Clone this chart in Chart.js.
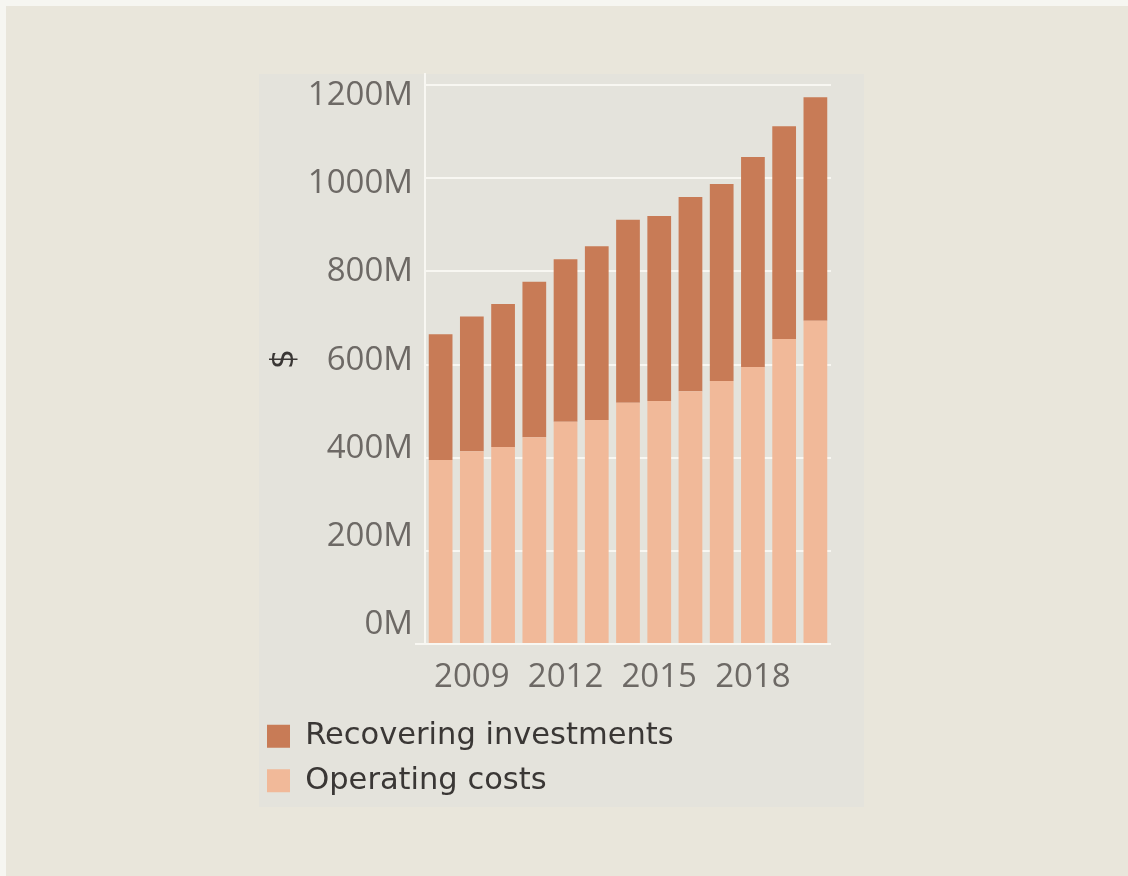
<!DOCTYPE html>
<html>
<head>
<meta charset="utf-8">
<title>Operating costs and recovering investments</title>
<script src="https://cdn.jsdelivr.net/npm/chart.js@4"></script>
<style>
  html, body { margin: 0; padding: 0; }
  body { width: 1128px; height: 876px; background: #f6f6f1; position: relative; overflow: hidden; }
  .page { position: absolute; left: 6px; top: 6px; right: 0; bottom: 0; background: #e9e6db; }
  .panel { position: absolute; left: 259px; top: 74px; width: 605px; height: 733px; background: #e4e3dc; }
  .wrap { position: absolute; left: 253px; top: 60px; width: 609px; height: 746px; }
</style>
</head>
<body>
<div class="page"></div>
<div class="panel"></div>
<div class="wrap"><canvas id="costChart"></canvas></div>
<script>
  'use strict'

  const years = [2008, 2009, 2010, 2011, 2012, 2013, 2014, 2015, 2016, 2017, 2018, 2019, 2020]
  // millions of dollars
  const operatingCosts = [395, 414, 423, 444, 477, 481, 518, 522, 543, 565, 595, 655, 694]
  const recoveringInvestments = [270, 289, 307, 334, 349, 373, 393, 397, 417, 423, 451, 457, 480]
  const yearLabels = [2009, 2012, 2015, 2018]
  const valueTicks = [0, 200, 400, 600, 800, 1000, 1200]

  const darkColor = '#c87b56'
  const lightColor = '#f1b999'
  const gridColor = '#f8f7f2'
  const tickFont = 'Open Sans'
  const legendFont = 'DejaVu Sans'

  // fixed tick set instead of the generated one
  const useValueTicks = scale => {
    scale.ticks = valueTicks.map(v => ({ value: v }))
  }

  const ctx = document.getElementById('costChart')
  new Chart(ctx, {
    type: 'bar',
    data: {
      labels: years,
      datasets: [{
        label: 'Operating costs',
        data: operatingCosts,
        backgroundColor: lightColor,
        borderWidth: 0,
        categoryPercentage: 0.76,
        barPercentage: 1
      }, {
        label: 'Recovering investments',
        data: recoveringInvestments,
        backgroundColor: darkColor,
        borderWidth: 0,
        categoryPercentage: 0.76,
        barPercentage: 1
      }]
    },
    options: {
      responsive: true,
      maintainAspectRatio: false,
      animation: false,
      layout: { padding: { left: 0, top: 14, right: 31, bottom: 0 } },
      scales: {
        x: {
          stacked: true,
          grid: { display: false },
          border: { display: false },
          ticks: {
            autoSkip: false,
            maxRotation: 0,
            padding: 6,
            color: '#6d6965',
            font: { family: tickFont, size: 33 },
            callback: function (value) {
              const year = this.getLabelForValue(value)
              return yearLabels.includes(Number(year)) ? String(year) : ''
            }
          },
          afterFit: scale => { scale.height = 63 }
        },
        y: {
          stacked: true,
          min: 0,
          max: 1224,
          weight: 0,
          ticks: { display: false },
          grid: {
            color: gridColor,
            lineWidth: 2,
            drawTicks: true,
            tickLength: 10,
            tickColor: c => (c.tick && c.tick.value === 0 ? gridColor : 'rgba(0,0,0,0)')
          },
          border: { color: gridColor, width: 2 },
          afterBuildTicks: useValueTicks,
          afterFit: scale => {
            scale.width = 10
            scale.paddingTop = 0
            scale.paddingBottom = 0
          }
        },
        // value labels on the left sit on their own scale
        yLabels: {
          type: 'linear',
          position: 'left',
          min: -45,
          max: 1250,
          weight: 1,
          grid: { display: false, drawTicks: false },
          border: { display: false },
          ticks: {
            padding: 2,
            color: '#6d6965',
            font: { family: tickFont, size: 33 },
            callback: v => v + 'M'
          },
          title: {
            display: true,
            text: '$',
            color: '#3a3735',
            font: { family: legendFont, size: 32 },
            padding: { top: 12, bottom: 0 }
          },
          afterBuildTicks: useValueTicks,
          afterFit: scale => {
            scale.width = 162
            scale.paddingTop = 0
            scale.paddingBottom = 0
          }
        }
      },
      plugins: {
        legend: {
          position: 'bottom',
          align: 'start',
          reverse: true,
          labels: {
            boxWidth: 23,
            boxHeight: 23,
            padding: 14,
            color: '#3a3735',
            font: { family: legendFont, size: 30.5 }
          }
        },
        tooltip: { enabled: false }
      }
    }
  })
</script>
</body>
</html>
